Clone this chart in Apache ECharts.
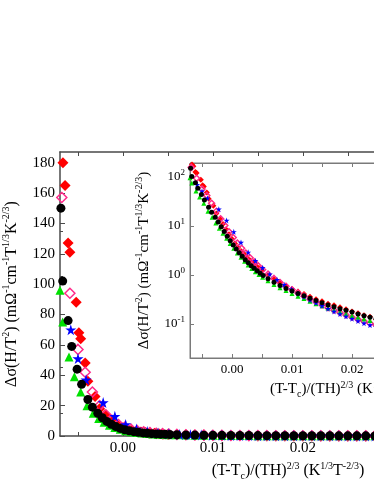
<!DOCTYPE html>
<html>
<head>
<meta charset="utf-8">
<script src="https://cdn.jsdelivr.net/npm/echarts@6/dist/echarts.min.js"></script>
<style>
  html, body { margin: 0; padding: 0; background: #fff; }
  #chart { width: 374px; height: 484px; }
</style>
</head>
<body>
<div id="chart"></div>
<script>
// [x, y] pairs, one array per sample
const redFilled = [
  [-0.00667, 180], [-0.00644, 165], [-0.0061, 127], [-0.0059, 121], [-0.0052, 88], [-0.0049, 68],
  [-0.0047, 64], [-0.0042, 48], [-0.0039, 36], [-0.0031, 26], [-0.0026, 18], [-0.002, 14],
  [-0.0015, 11], [-0.001, 8.6], [-0.0005, 6.8], [0, 5.4], [0.0005, 4.4], [0.001, 3.7],
  [0.0015, 3.1], [0.002, 2.7], [0.0025, 2.3], [0.003, 2.0], [0.0035, 1.75], [0.004, 1.55],
  [0.0045, 1.38], [0.005, 1.22], [0.006, 0.98], [0.007, 0.82], [0.008, 0.70], [0.009, 0.60],
  [0.010, 0.52], [0.011, 0.46], [0.012, 0.41], [0.013, 0.36], [0.014, 0.32], [0.015, 0.29],
  [0.016, 0.26], [0.017, 0.24], [0.018, 0.22], [0.019, 0.20], [0.020, 0.18], [0.021, 0.165],
  [0.022, 0.15], [0.023, 0.14], [0.024, 0.125], [0.025, 0.115], [0.026, 0.108], [0.027, 0.10],
  [0.028, 0.094], [0.029, 0.089]
];
const pinkOpen = [
  [-0.0068, 157], [-0.0059, 94], [-0.0050, 57], [-0.0042, 42], [-0.0034, 29], [-0.0026, 20],
  [-0.0019, 14], [-0.0012, 10.2], [-0.0005, 7.6], [0.0002, 5.8], [0.0009, 4.5], [0.0016, 3.5],
  [0.0023, 2.8], [0.003, 2.25], [0.0037, 1.85], [0.0044, 1.53], [0.0051, 1.28], [0.006, 1.04],
  [0.007, 0.85], [0.008, 0.70], [0.009, 0.59], [0.010, 0.50], [0.011, 0.43], [0.012, 0.37],
  [0.013, 0.32], [0.014, 0.28], [0.015, 0.245], [0.016, 0.215], [0.017, 0.19], [0.018, 0.17],
  [0.019, 0.152], [0.020, 0.137], [0.021, 0.124], [0.022, 0.113], [0.023, 0.103], [0.024, 0.095],
  [0.025, 0.088], [0.026, 0.082], [0.027, 0.077], [0.028, 0.072], [0.029, 0.068]
];
const greenTri = [
  [-0.0070, 96], [-0.0067, 75], [-0.0060, 52], [-0.0054, 39], [-0.0047, 29], [-0.0040, 20],
  [-0.0033, 15], [-0.0027, 11.5], [-0.0021, 9], [-0.0015, 7.1], [-0.0009, 5.6], [-0.0003, 4.4],
  [0.0003, 3.5], [0.0009, 2.8], [0.0015, 2.3], [0.0021, 1.9], [0.0027, 1.6], [0.0033, 1.36],
  [0.0039, 1.17], [0.0045, 1.02], [0.0051, 0.90], [0.006, 0.76], [0.007, 0.64], [0.008, 0.55],
  [0.009, 0.48], [0.010, 0.42], [0.011, 0.37], [0.012, 0.33], [0.013, 0.29], [0.014, 0.26],
  [0.015, 0.235], [0.016, 0.213], [0.017, 0.194], [0.018, 0.177], [0.019, 0.162], [0.020, 0.149],
  [0.021, 0.137], [0.022, 0.127], [0.023, 0.118], [0.024, 0.11], [0.025, 0.103], [0.026, 0.096],
  [0.027, 0.09], [0.028, 0.085], [0.029, 0.08]
];
const blueStar = [
  [-0.0058, 70], [-0.0050, 51], [-0.0041, 37], [-0.0022, 22], [-0.0009, 13], [0.0003, 7.6],
  [0.0015, 4.6], [0.0027, 2.9], [0.0039, 1.95], [0.0051, 1.4], [0.0063, 1.04], [0.0075, 0.80],
  [0.0087, 0.63], [0.0099, 0.51], [0.011, 0.42], [0.012, 0.36], [0.013, 0.31], [0.014, 0.27],
  [0.015, 0.235], [0.016, 0.205], [0.017, 0.18], [0.018, 0.16], [0.019, 0.143], [0.020, 0.128],
  [0.021, 0.115], [0.022, 0.104], [0.023, 0.095], [0.024, 0.087], [0.025, 0.08], [0.026, 0.074],
  [0.027, 0.069], [0.028, 0.064]
];
const blackDot = [
  [-0.0069, 150], [-0.0067, 102], [-0.0061, 76], [-0.0057, 59], [-0.0051, 44], [-0.0046, 34],
  [-0.0039, 24], [-0.0034, 19], [-0.0028, 15], [-0.0023, 12], [-0.0018, 9.6], [-0.0013, 7.7],
  [-0.0008, 6.2], [-0.0003, 5.0], [0.0002, 4.1], [0.0007, 3.4], [0.0012, 2.85], [0.0017, 2.4],
  [0.0022, 2.05], [0.0027, 1.78], [0.0032, 1.55], [0.0037, 1.37], [0.0042, 1.22], [0.0047, 1.09],
  [0.0052, 0.98], [0.006, 0.84], [0.007, 0.71], [0.008, 0.61], [0.009, 0.53], [0.010, 0.47],
  [0.011, 0.42], [0.012, 0.375], [0.013, 0.335], [0.014, 0.30], [0.015, 0.27], [0.016, 0.245],
  [0.017, 0.225], [0.018, 0.205], [0.019, 0.19], [0.020, 0.175], [0.021, 0.16], [0.022, 0.148],
  [0.023, 0.137], [0.024, 0.127], [0.025, 0.118], [0.026, 0.11], [0.027, 0.103], [0.028, 0.097],
  [0.029, 0.091]
];

const xTicks = [-0.005, 0, 0.005, 0.01, 0.015, 0.02, 0.025, 0.03, 0.035, 0.04, 0.045];
const xLabels = [0, 0.01, 0.02, 0.03, 0.04];
const yMainTicks = [0, 20, 40, 60, 80, 100, 120, 140, 160, 180];
const logMinorTicks = [
  0.03, 0.04, 0.05, 0.06, 0.07, 0.08, 0.09,
  0.2, 0.3, 0.4, 0.5, 0.6, 0.7, 0.8, 0.9,
  2, 3, 4, 5, 6, 7, 8, 9,
  20, 30, 40, 50, 60, 70, 80, 90
];

const FONT = "Liberation Serif";
const mainLine = "#4a4a4a";
const insetLine = "#7a7a7a";
const starPath = "path://M50,0 L61,35 L98,35 L68,57 L79,91 L50,70 L21,91 L32,57 L2,35 L39,35 Z";

const sup = { fontSize: 10, lineHeight: 10, verticalAlign: "top", fontFamily: FONT, color: "#000" };
const sub = { fontSize: 10, lineHeight: 10, verticalAlign: "bottom", fontFamily: FONT, color: "#000" };

const xName = "(T-T{sub|c})/(TH){sup|2/3} (K{sup|1/3}T{sup|-2/3})";
const yName = "Δσ(H/T{sup|2}) (mΩ{sup|-1}cm{sup|-1}T{sup|1/3}K{sup|-2/3})";

function xAxisCfg(gridIndex, position, lineColor, fontSize, withLabels) {
  return {
    type: "value",
    gridIndex,
    position,
    min: -0.007,
    max: gridIndex === 0 ? 0.0437 : 0.044,
    axisLine: { show: true, onZero: false, lineStyle: { color: lineColor, width: gridIndex === 0 ? 1.5 : 1 } },
    axisTick: { show: true, inside: true, length: 4, customValues: xTicks, lineStyle: { color: lineColor } },
    axisLabel: {
      show: withLabels,
      customValues: xLabels,
      margin: 5,
      fontFamily: FONT,
      fontSize,
      color: "#000",
      formatter: (v) => v.toFixed(2),
    },
    splitLine: { show: false },
  };
}

const chart = echarts.init(document.getElementById("chart"));

const mainX = xAxisCfg(0, "bottom", mainLine, 15, true);
mainX.name = xName;
mainX.nameLocation = "middle";
mainX.nameGap = 19;
mainX.nameTextStyle = { fontFamily: FONT, fontSize: 16, lineHeight: 20, color: "#000", rich: { sup, sub } };

const insetX = xAxisCfg(1, "bottom", insetLine, 13, true);
insetX.name = xName;
insetX.nameLocation = "middle";
insetX.nameGap = 22;
insetX.nameTextStyle = { fontFamily: FONT, fontSize: 15, lineHeight: 19, color: "#000", rich: { sup, sub } };

function seriesPair(data, symbol, size, style) {
  const itemStyle = Object.assign({ opacity: 1 }, style);
  return [
    { type: "scatter", xAxisIndex: 0, yAxisIndex: 0, data, symbol, symbolSize: size[0], itemStyle, silent: true },
    { type: "scatter", xAxisIndex: 2, yAxisIndex: 1, data, symbol, symbolSize: size[1], itemStyle, silent: true, z: 3 },
  ];
}

const option = {
  backgroundColor: "#fff",
  animation: false,
  grid: [
    { left: 60, top: 152, width: 456, height: 284, containLabel: false, outerBoundsMode: "none" },
    { left: 190, top: 163, width: 306, height: 195, show: true, backgroundColor: "#fff", borderColor: insetLine, borderWidth: 1, outerBoundsMode: "none" },
  ],
  xAxis: [
    mainX,
    xAxisCfg(0, "top", mainLine, 15, false),
    insetX,
    xAxisCfg(1, "top", insetLine, 13, false),
  ],
  yAxis: [
    {
      type: "value",
      gridIndex: 0,
      min: 0,
      max: 187,
      axisLine: { show: true, onZero: false, lineStyle: { color: mainLine, width: 1.5 } },
      axisTick: { show: true, inside: true, length: 5, customValues: yMainTicks, lineStyle: { color: mainLine } },
      minorTick: { show: true, splitNumber: 2, length: 3, lineStyle: { color: mainLine } },
      axisLabel: { customValues: yMainTicks, margin: 5, fontFamily: FONT, fontSize: 15, color: "#000" },
      splitLine: { show: false },
      name: yName,
      nameLocation: "middle",
      nameGap: 31,
      nameTextStyle: { fontFamily: FONT, fontSize: 16, lineHeight: 20, color: "#000", rich: { sup, sub } },
    },
    {
      type: "log",
      logBase: 10,
      gridIndex: 1,
      min: 0.0202,
      max: 193,
      axisLine: { show: true, onZero: false, lineStyle: { color: insetLine, width: 1 } },
      axisTick: { show: true, inside: true, length: 4, lineStyle: { color: insetLine } },
      axisLabel: {
        margin: 5,
        showMinLabel: false,
        showMaxLabel: false,
        fontFamily: FONT,
        fontSize: 13,
        color: "#000",
        formatter: (v) => "{b|10}{e|" + Math.round(Math.log10(v)) + "}",
        rich: {
          b: { fontFamily: FONT, fontSize: 13, lineHeight: 17, color: "#000" },
          e: { fontFamily: FONT, fontSize: 9, lineHeight: 9, verticalAlign: "top", color: "#000" },
        },
      },
      splitLine: { show: false },
      name: yName,
      nameLocation: "middle",
      nameGap: 34,
      nameTextStyle: { fontFamily: FONT, fontSize: 15, lineHeight: 19, color: "#000", rich: { sup, sub } },
    },
    {
      type: "log",
      logBase: 10,
      gridIndex: 1,
      min: 0.0202,
      max: 193,
      axisLine: { show: false, onZero: false },
      axisTick: { show: true, inside: true, length: 3, customValues: logMinorTicks, lineStyle: { color: insetLine } },
      axisLabel: { show: false },
      splitLine: { show: false },
    },
  ],
  series: [
    ...seriesPair(redFilled, "diamond", [11, 6], { color: "#ff0000" }),
    ...seriesPair(pinkOpen, "diamond", [10, 6], { color: "rgba(255,255,255,0)", borderColor: "#ff2a8a", borderWidth: 1.5 }),
    ...seriesPair(greenTri, "triangle", [9, 5], { color: "#00e000" }),
    ...seriesPair(blueStar, starPath, [11, 6], { color: "#0000ff" }),
    ...seriesPair(blackDot, "circle", [9, 5], { color: "#000" }),
  ],
};

chart.setOption(option);
</script>
</body>
</html>
